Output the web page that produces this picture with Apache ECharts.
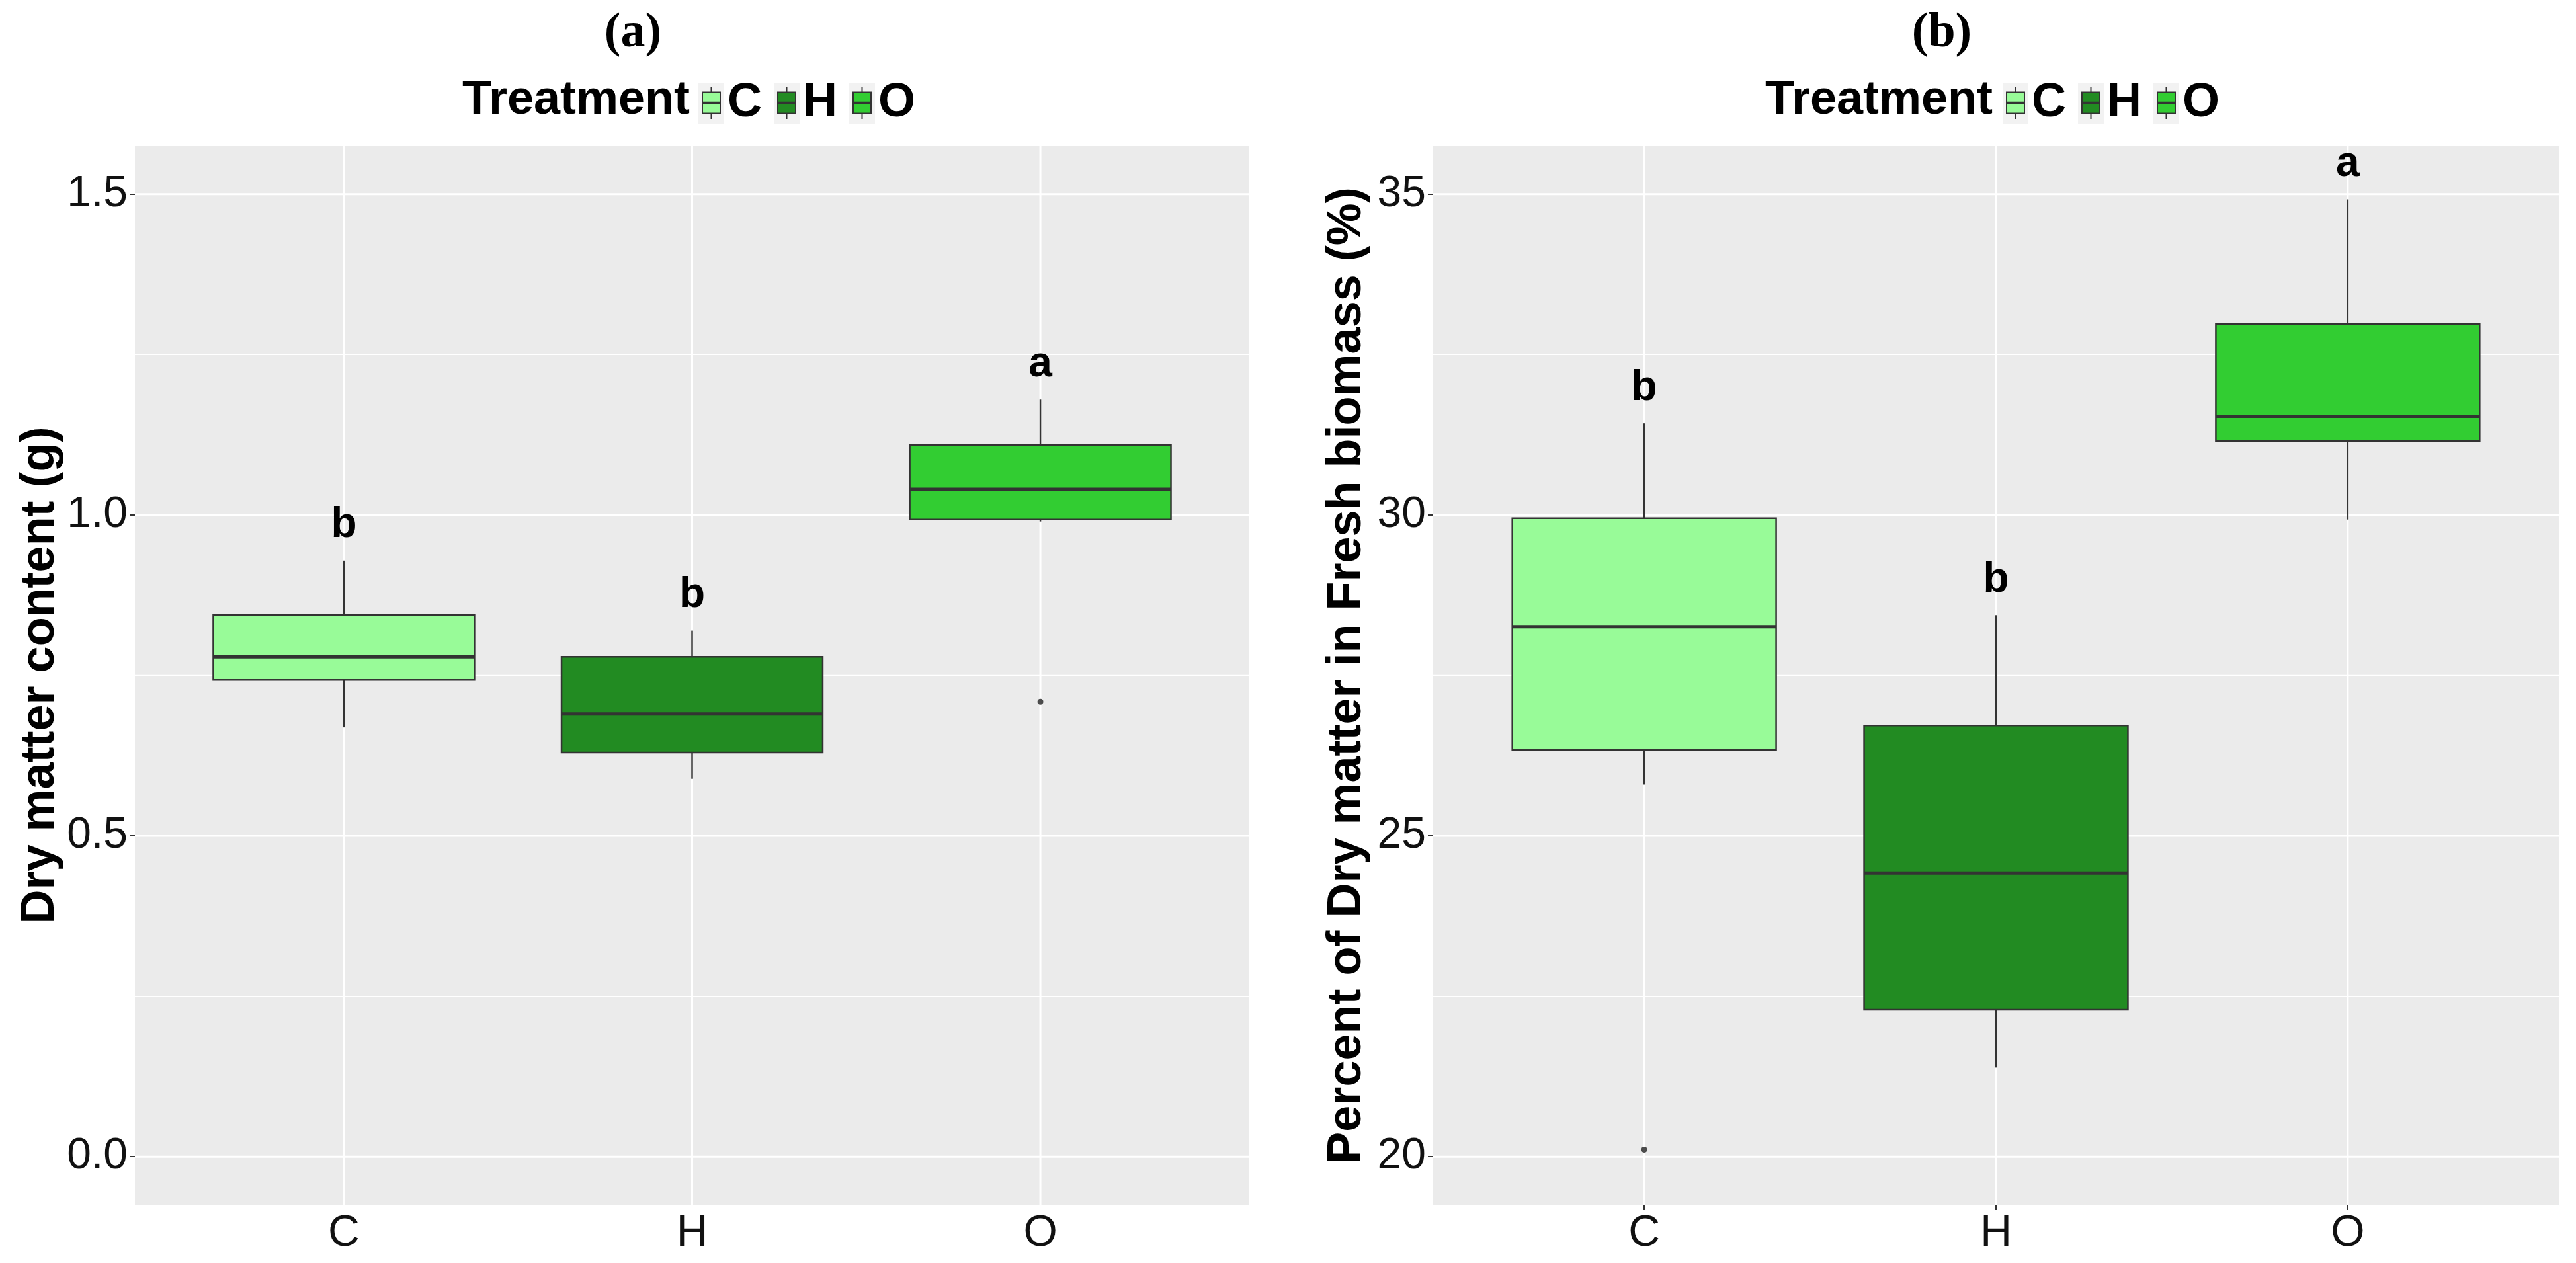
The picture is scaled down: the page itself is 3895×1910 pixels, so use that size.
<!DOCTYPE html>
<html>
<head>
<meta charset="utf-8">
<script src="https://cdn.jsdelivr.net/npm/echarts@6/dist/echarts.min.js"></script>
<style>
html,body{margin:0;padding:0;background:#fff;}
#chart{width:3895px;height:1910px;}
</style>
</head>
<body>
<div id="chart"></div>
<script>
// ---------- data ----------
const categories = ['C', 'H', 'O'];
const fillColors = ['#98FB98', '#228B22', '#32CD32'];

// (a) Dry matter content (g)
const dryMin = [0.669, 0.589, 0.990];
const dryQ1  = [0.743, 0.630, 0.993];
const dryMed = [0.779, 0.690, 1.040];
const dryQ3  = [0.844, 0.779, 1.109];
const dryMax = [0.929, 0.820, 1.180];
const dryOutlierCat = ['O'];
const dryOutlierVal = [0.709];
const dryLetters = ['b', 'b', 'a'];
const dryTicks = [0, 0.5, 1.0, 1.5];
const dryMinorTicks = [0.25, 0.75, 1.25];

// (b) Percent of Dry matter in Fresh biomass (%)
const pctMin = [25.80, 21.39, 29.93];
const pctQ1  = [26.34, 22.29, 31.15];
const pctMed = [28.26, 24.42, 31.54];
const pctQ3  = [29.95, 26.72, 32.98];
const pctMax = [31.43, 28.44, 34.92];
const pctOutlierCat = ['C'];
const pctOutlierVal = [20.11];
const pctLetters = ['b', 'b', 'a'];
const pctTicks = [20, 25, 30, 35];
const pctMinorTicks = [22.5, 27.5, 32.5];

// ---------- styling helpers ----------
const SANS = 'Liberation Sans, Arial, sans-serif';
const SERIF = 'Liberation Serif, Times New Roman, serif';
const LINE = '#333333';
const BOX_WIDTH = 0.75;
const catPos = categories.map((c, i) => i + 1);

function keyIcon(fill) {
  const svg = "<svg xmlns='http://www.w3.org/2000/svg' width='39' height='63' viewBox='0 0 39 63'>" +
    "<rect width='39' height='63' fill='#F2F2F2'/>" +
    "<line x1='19.5' y1='7.5' x2='19.5' y2='55.5' stroke='#333' stroke-width='2'/>" +
    "<rect x='6' y='15' width='27' height='32' fill='" + fill + "' stroke='#333' stroke-width='2'/>" +
    "<line x1='6' y1='31' x2='33' y2='31' stroke='#333' stroke-width='3.5'/>" +
    "</svg>";
  return 'image://data:image/svg+xml;charset=utf-8,' + encodeURIComponent(svg);
}

function renderBox(params, api) {
  const x = api.value(0);
  const lo = api.coord([x, api.value(1)]);
  const q1 = api.coord([x, api.value(2)]);
  const md = api.coord([x, api.value(3)]);
  const q3 = api.coord([x, api.value(4)]);
  const hi = api.coord([x, api.value(5)]);
  const w = api.size([BOX_WIDTH, 0])[0];
  const cx = lo[0];
  const st = {stroke: LINE, lineWidth: 2.5};
  return {
    type: 'group',
    children: [
      {type: 'line', shape: {x1: cx, y1: hi[1], x2: cx, y2: q3[1]}, style: st},
      {type: 'line', shape: {x1: cx, y1: q1[1], x2: cx, y2: lo[1]}, style: st},
      {type: 'rect', shape: {x: cx - w / 2, y: q3[1], width: w, height: q1[1] - q3[1]},
        style: {fill: api.visual('color'), stroke: LINE, lineWidth: 2.5}},
      {type: 'line', shape: {x1: cx - w / 2, y1: md[1], x2: cx + w / 2, y2: md[1]},
        style: {stroke: LINE, lineWidth: 5}}
    ]
  };
}

function renderHGrid(params, api) {
  const cs = params.coordSys;
  const y = api.coord([api.value(0), api.value(1)])[1];
  return {type: 'line', shape: {x1: cs.x, y1: y, x2: cs.x + cs.width, y2: y},
    style: {stroke: '#FFFFFF', lineWidth: api.value(2)}};
}
function renderVGrid(params, api) {
  const cs = params.coordSys;
  const x = api.coord([api.value(0), api.value(1)])[0];
  return {type: 'line', shape: {x1: x, y1: cs.y, x2: x, y2: cs.y + cs.height},
    style: {stroke: '#FFFFFF', lineWidth: 3}};
}
function makeLetterRenderer(letters) {
  return function (params, api) {
    const p = api.coord([api.value(0), api.value(1)]);
    return {type: 'text', x: p[0], y: p[1] - 53,
      style: {text: letters[params.dataIndex], fill: '#000', align: 'center', verticalAlign: 'middle',
        textAlign: 'center', textVerticalAlign: 'middle',
        font: 'bold 64px ' + SANS}};
  };
}

function panelSeries(idx, mins, q1s, meds, q3s, maxs, ticks, minors, outCat, outVal, letters) {
  const s = [];
  s.push({
    type: 'custom', name: 'hgrid' + idx, xAxisIndex: idx, yAxisIndex: idx, z: 1, silent: true,
    renderItem: renderHGrid, encode: {x: 0, y: 1},
    data: ticks.map(v => [1, v, 3]).concat(minors.map(v => [1, v, 1.5]))
  });
  s.push({
    type: 'custom', name: 'vgrid' + idx, xAxisIndex: idx, yAxisIndex: idx, z: 1, silent: true,
    renderItem: renderVGrid, encode: {x: 0, y: 1},
    data: catPos.map(c => [c, ticks[1]])
  });
  categories.forEach((c, i) => {
    s.push({
      type: 'custom', name: c, xAxisIndex: idx, yAxisIndex: idx, z: 3,
      itemStyle: {color: fillColors[i]},
      renderItem: renderBox, encode: {x: 0, y: [1, 2, 3, 4, 5]},
      data: [[catPos[i], mins[i], q1s[i], meds[i], q3s[i], maxs[i]]]
    });
  });
  s.push({
    type: 'scatter', name: 'outliers' + idx, xAxisIndex: idx, yAxisIndex: idx, z: 4,
    symbolSize: 9, itemStyle: {color: '#222'}, silent: true,
    data: outCat.map((c, i) => [categories.indexOf(c) + 1, outVal[i]])
  });
  s.push({
    type: 'custom', name: 'letters' + idx, xAxisIndex: idx, yAxisIndex: idx, z: 5, silent: true,
    renderItem: makeLetterRenderer(letters), encode: {x: 0, y: 1},
    data: categories.map((c, i) => [catPos[i], maxs[i]])
  });
  return s;
}

function xAxisDef(gridIndex) {
  return {
    type: 'value', gridIndex: gridIndex, min: 0.4, max: 3.6,
    axisLine: {show: false},
    splitLine: {show: false},
    axisTick: {show: true, customValues: catPos, length: 8, lineStyle: {color: LINE, width: 2}},
    axisLabel: {show: true, customValues: catPos, margin: 11,
      formatter: v => categories[Math.round(v) - 1] || '',
      fontFamily: SANS, fontSize: 66, color: '#111'}
  };
}
function yAxisDef(gridIndex, min, max, ticks, fmt, name, gap) {
  return {
    type: 'value', gridIndex: gridIndex, min: min, max: max,
    axisLine: {show: false},
    splitLine: {show: false},
    axisTick: {show: true, customValues: ticks, length: 8, lineStyle: {color: LINE, width: 2}},
    axisLabel: {show: true, customValues: ticks, margin: 11, formatter: fmt,
      fontFamily: SANS, fontSize: 66, color: '#111'},
    name: name, nameLocation: 'middle', nameRotate: 90, nameGap: gap,
    nameTextStyle: {fontFamily: SANS, fontSize: 72, fontWeight: 'bold', color: '#000'}
  };
}

const legendText = {fontFamily: SANS, fontSize: 72, fontWeight: 'bold', color: '#000'};
const legendData = categories.map((c, i) => ({name: c, icon: keyIcon(fillColors[i])}));

const option = {
  animation: false,
  backgroundColor: '#FFFFFF',
  title: [
    {text: '(a)', left: 957, top: 14, textAlign: 'center', padding: 0,
      textStyle: {fontFamily: SERIF, fontWeight: 'bold', fontSize: 74, color: '#000'}},
    {text: '(b)', left: 2936, top: 14, textAlign: 'center', padding: 0,
      textStyle: {fontFamily: SERIF, fontWeight: 'bold', fontSize: 74, color: '#000'}},
    {text: 'Treatment', left: 1043, top: 116, textAlign: 'right', padding: 0, textStyle: legendText},
    {text: 'Treatment', left: 3013, top: 116, textAlign: 'right', padding: 0, textStyle: legendText}
  ],
  legend: [
    {left: 1056, top: 120, padding: 0, itemWidth: 39, itemHeight: 63, itemGap: 18,
      symbolKeepAspect: false, selectedMode: false, textStyle: legendText, data: legendData},
    {left: 3028, top: 120, padding: 0, itemWidth: 39, itemHeight: 63, itemGap: 18,
      symbolKeepAspect: false, selectedMode: false, textStyle: legendText, data: legendData}
  ],
  grid: [
    {left: 204, top: 221, width: 1685, height: 1601, show: true, backgroundColor: '#EBEBEB', borderWidth: 0},
    {left: 2167, top: 221, width: 1702, height: 1601, show: true, backgroundColor: '#EBEBEB', borderWidth: 0}
  ],
  xAxis: [xAxisDef(0), xAxisDef(1)],
  yAxis: [
    yAxisDef(0, -0.075, 1.575, dryTicks, v => v.toFixed(1), 'Dry matter content (g)', 100),
    yAxisDef(1, 19.25, 35.75, pctTicks, v => String(v), 'Percent of Dry matter in Fresh biomass (%)', 94)
  ],
  series: [].concat(
    panelSeries(0, dryMin, dryQ1, dryMed, dryQ3, dryMax, dryTicks, dryMinorTicks, dryOutlierCat, dryOutlierVal, dryLetters),
    panelSeries(1, pctMin, pctQ1, pctMed, pctQ3, pctMax, pctTicks, pctMinorTicks, pctOutlierCat, pctOutlierVal, pctLetters)
  )
};

const chart = echarts.init(document.getElementById('chart'), null, {renderer: 'canvas'});
chart.setOption(option);
</script>
</body>
</html>
